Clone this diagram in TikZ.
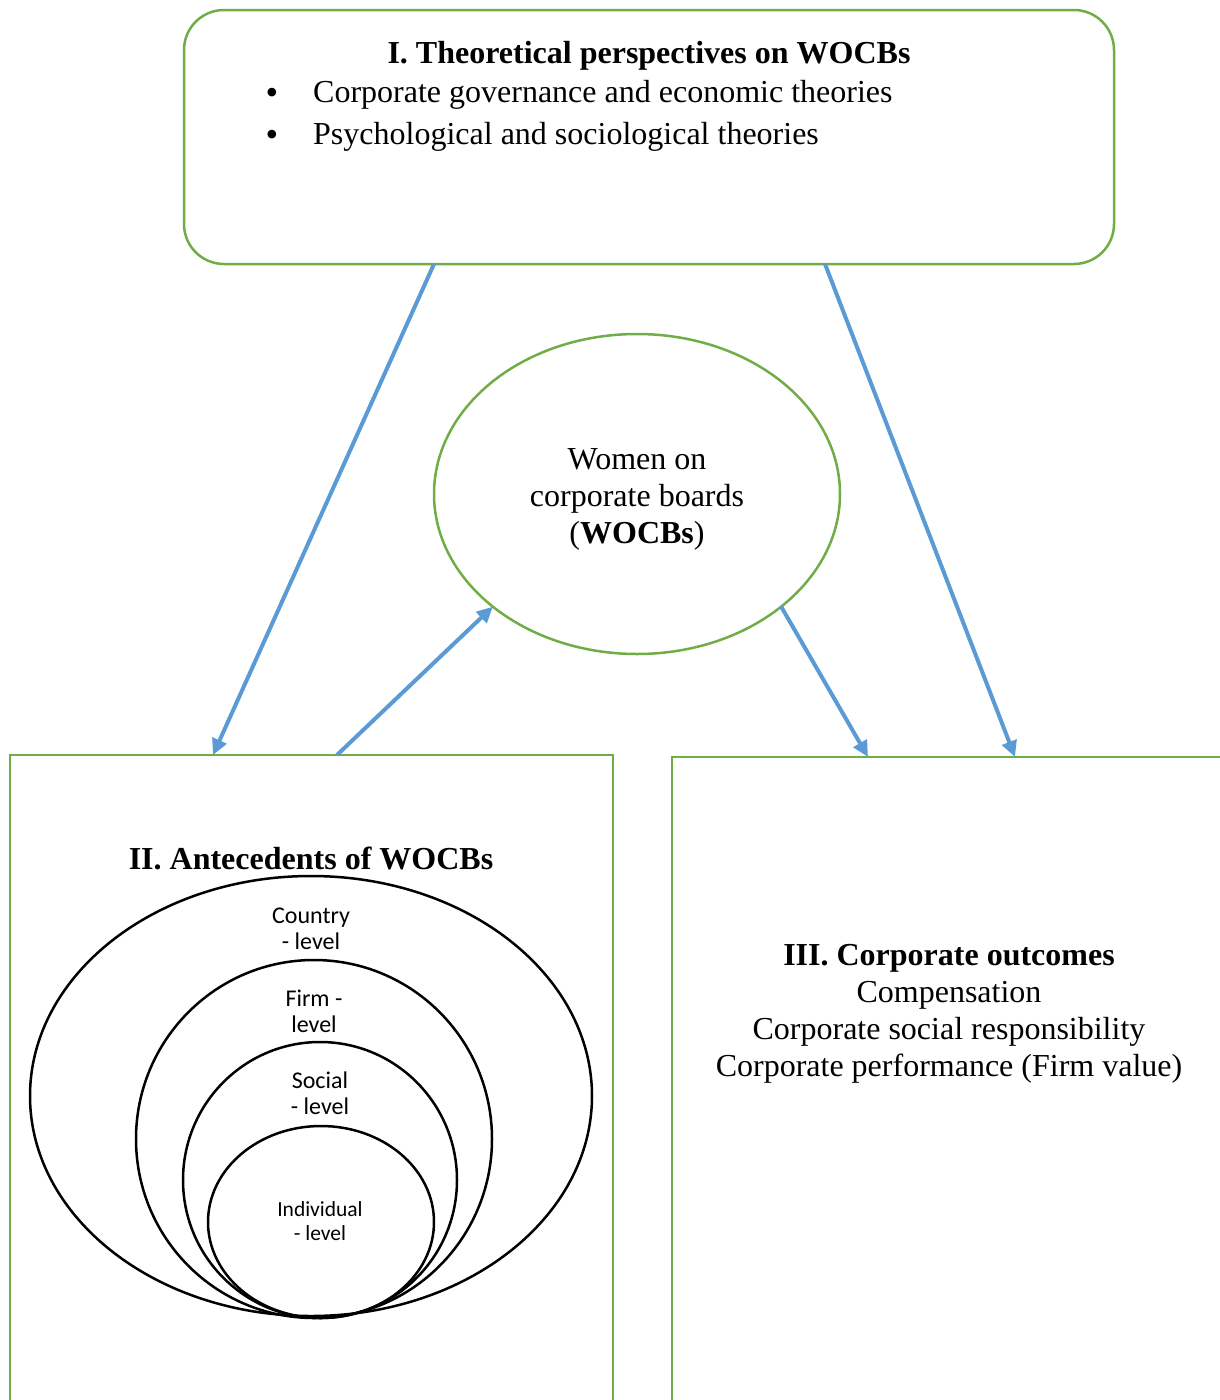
\documentclass[tikz,border=0pt]{standalone}
\usepackage{fontspec}
\setmainfont{Liberation Serif}
\newfontfamily\calfont{Carlito}
\usetikzlibrary{arrows.meta,shapes.geometric,calc}
\definecolor{grn}{RGB}{112,173,71}
\definecolor{blu}{RGB}{91,155,213}
\tikzset{
  gbox/.style={draw=grn,line width=2.5pt,inner sep=0pt,outer sep=0pt},
  conn/.style={draw=blu,line width=4pt,-{Triangle[length=16pt,width=15pt]}},
  ring/.style={draw=black,ellipse,line width=2.5pt,inner sep=0pt,outer sep=0pt},
  stxt/.style={font=\fontsize{32}{37}\selectfont,inner sep=0pt,align=center},
  ctxt/.style={font=\calfont\fontsize{24}{26}\selectfont,inner sep=0pt,align=center},
}
\begin{document}
\begin{tikzpicture}[x=1pt,y=-1pt]
\useasboundingbox (0,0) rectangle (1220,1400);
\clip (0,0) rectangle (1220,1400);
% boxes
\node[gbox,rounded corners=40pt,minimum width=930pt,minimum height=254pt] (top) at (649,137) {};
\node[gbox,ellipse,minimum width=406pt,minimum height=320pt] (ell) at (637,494) {};
\node[gbox,minimum width=603pt,minimum height=665pt] (left) at (311.5,1087.5) {};
\node[gbox,minimum width=568pt,minimum height=663pt] (right) at (956,1088.5) {};
% texts top
\node[stxt,font=\bfseries\fontsize{32}{37}\selectfont] (t1) at (649,56) {I. Theoretical perspectives on WOCBs};
\node[stxt,font=\fontsize{36}{37}\selectfont] (b1) at (272,96) {•};
\node[stxt,font=\fontsize{36}{37}\selectfont] (b2) at (272,138) {•};
\node[stxt,anchor=west] (l1) at (313,95) {Corporate governance and economic theories};
\node[stxt,anchor=west] (l2) at (313,137) {Psychological and sociological theories};
% ellipse text
\node[stxt] (et) at (637,499) {Women on\\corporate boards\\(\textbf{WOCBs})};
% left box
\node[stxt,font=\bfseries\fontsize{32}{37}\selectfont] (t2) at (311,858) {II. Antecedents of WOCBs};
\node[ring,minimum width=562pt,minimum height=440pt] (c1) at (311,1096) {};
\node[ring,minimum width=356pt,minimum height=358pt] (c2) at (314,1139) {};
\node[ring,minimum width=274pt,minimum height=276pt] (c3) at (320,1180) {};
\node[ring,minimum width=226pt,minimum height=192pt] (c4) at (321,1222) {};
\node[ctxt] (k1) at (311,929) {Country\\- level};
\node[ctxt] (k2) at (314,1011) {Firm -\\level};
\node[ctxt] (k3) at (320,1093) {Social\\- level};
\node[ctxt,font=\calfont\fontsize{21.5}{24}\selectfont] (k4) at (320,1221) {Individual\\- level};
% right box
\node[stxt] (t3) at (949,1014) {\textbf{III. Corporate outcomes}\\Compensation\\Corporate social responsibility\\Corporate performance (Firm value)};
% connectors
\coordinate (p1) at ($(top.south)+(-215,0)$);
\coordinate (p2) at ($(left.north west)+(203,0)$);
\coordinate (p3) at ($(top.south)+(176,0)$);
\coordinate (p4) at ($(right.north west)+(343,0)$);
\coordinate (p5) at ($(left.north west)+(327,0)$);
\coordinate (p6) at ($(right.north west)+(196,0)$);
\draw[conn] (p1) -- (p2);
\draw[conn] (p3) -- (p4);
\draw[conn] (p5) -- (ell.218);
\draw[conn] (ell.322) -- (p6);
\end{tikzpicture}
\end{document}
